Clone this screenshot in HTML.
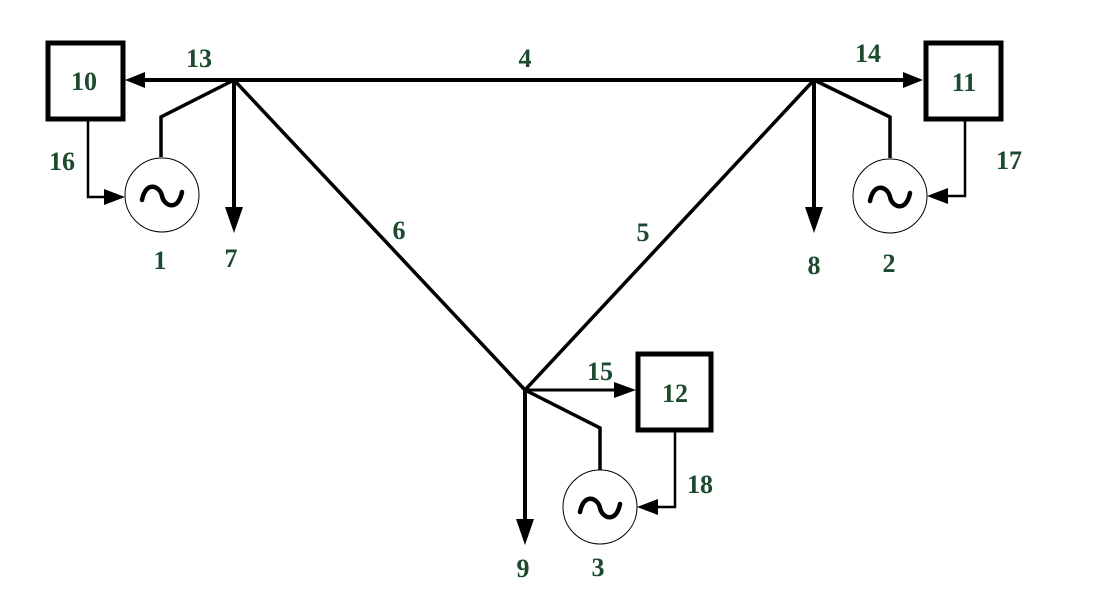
<!DOCTYPE html>
<html><head><meta charset="utf-8"><style>
html,body{margin:0;padding:0;background:#fff;}
svg{display:block;}
text{font-family:"Liberation Serif",serif;font-weight:bold;font-size:26px;fill:#1d4a2f;text-anchor:middle;}
</style></head><body>
<svg width="1098" height="601" viewBox="0 0 1098 601" xmlns="http://www.w3.org/2000/svg">
<g stroke="#000" fill="none" stroke-linecap="butt">
<line x1="140" y1="80" x2="904" y2="80" stroke-width="4"/>
<line x1="234" y1="80" x2="525" y2="390" stroke-width="3.5"/>
<line x1="814" y1="80" x2="525" y2="390" stroke-width="3.5"/>
<line x1="234" y1="80" x2="234" y2="210" stroke-width="4"/>
<line x1="814" y1="80" x2="814" y2="210" stroke-width="4"/>
<line x1="525" y1="390" x2="525" y2="522" stroke-width="4"/>
<polyline points="234,80 161,117 161,157" stroke-width="3.5"/>
<polyline points="814,80 890,117 890,158" stroke-width="3.5"/>
<polyline points="525,390 600,428 600,470" stroke-width="3.5"/>
<line x1="525" y1="390" x2="615" y2="390" stroke-width="3"/>
<polyline points="88,120 88,197 105,197" stroke-width="2.5"/>
<polyline points="965,120 965,196 948,196" stroke-width="2.5"/>
<polyline points="675,430 675,507 658,507" stroke-width="2.5"/>
<rect x="48" y="43" width="75" height="76" stroke-width="5"/>
<rect x="926" y="43" width="75" height="76" stroke-width="5"/>
<rect x="638" y="354" width="73" height="76" stroke-width="5"/>
<circle cx="162" cy="195" r="37" stroke-width="1"/>
<circle cx="890" cy="196" r="37" stroke-width="1"/>
<circle cx="600" cy="507" r="37" stroke-width="1"/>
<g stroke-width="4.5" stroke-linecap="round">
<path d="M142,200 C146,180 160,186 162,196 C164,206 178,212 182,192"/>
<path d="M870,201 C874,181 888,187 890,197 C892,207 906,213 910,193"/>
<path d="M580,512 C584,492 598,498 600,508 C602,518 616,524 620,504"/>
</g>
</g>
<g fill="#000">
<polygon points="125,80 145,72 145,88"/>
<polygon points="923,80 903,72 903,88"/>
<polygon points="636,390 614,382 614,398"/>
<polygon points="234,233 225,207 243,207"/>
<polygon points="814,233 805,207 823,207"/>
<polygon points="525,545 516,519 534,519"/>
<polygon points="125,197 104,189 104,205"/>
<polygon points="927,196 948,188 948,204"/>
<polygon points="637,507 658,499 658,515"/>
</g>
<text x="84" y="90">10</text>
<text x="964" y="91">11</text>
<text x="675" y="402">12</text>
<text x="199" y="67">13</text>
<text x="525" y="67">4</text>
<text x="868" y="62">14</text>
<text x="62" y="170">16</text>
<text x="1009" y="169">17</text>
<text x="160" y="269">1</text>
<text x="231" y="267">7</text>
<text x="399" y="239">6</text>
<text x="643" y="241">5</text>
<text x="814" y="274">8</text>
<text x="889" y="272">2</text>
<text x="600" y="380">15</text>
<text x="700" y="493">18</text>
<text x="523" y="577">9</text>
<text x="598" y="576">3</text>
</svg>
</body></html>
